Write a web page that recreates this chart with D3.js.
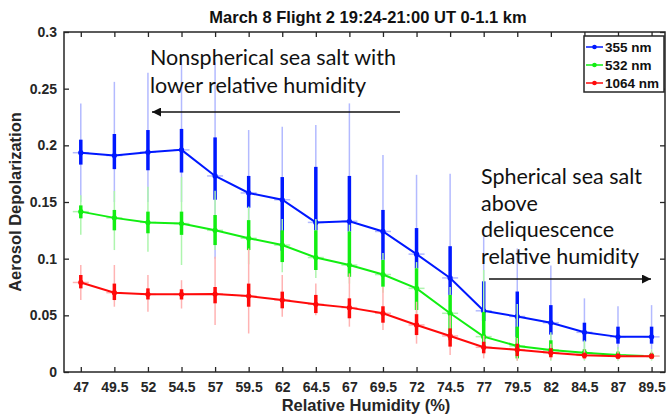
<!DOCTYPE html>
<html>
<head>
  <meta charset="utf-8">
  <script src="https://d3js.org/d3.v7.min.js"></script>
  <style>
    body { margin: 0; background: #fff; }
    svg text { font-family: "Liberation Sans", Arial, sans-serif; }
    .note { font-family: Lato, "Open Sans", sans-serif; font-size: 21.5px; fill: #111; }
  </style>
</head>
<body>
<script>
// relative humidity bins (%)
var rh = [47, 49.5, 52, 54.5, 57, 59.5, 62, 64.5, 67, 69.5, 72, 74.5, 77, 79.5, 82, 84.5, 87, 89.5];

// 355 nm
var blueMean   = [0.1935, 0.191, 0.194, 0.196, 0.173, 0.158, 0.152, 0.132, 0.133, 0.124, 0.104, 0.083, 0.054, 0.049, 0.0435, 0.035, 0.031, 0.031];
var blueBoxLo  = [0.183, 0.179, 0.178, 0.176, 0.152, 0.145, 0.107, 0.125, 0.124, 0.099, 0.0915, 0.068, 0.045, 0.031, 0.033, 0.027, 0.025, 0.025];
var blueBoxHi  = [0.205, 0.21, 0.2135, 0.2145, 0.207, 0.173, 0.172, 0.181, 0.173, 0.143, 0.127, 0.111, 0.080, 0.071, 0.059, 0.0435, 0.040, 0.040];
var blueMinLo  = [0.15, 0.15, 0.15, 0.15, 0.10, 0.12, 0.10, 0.10, 0.09, 0.08, 0.07, 0.05, 0.03, 0.025, 0.022, 0.018, 0.02, 0.02];
var blueMaxHi  = [0.237, 0.256, 0.264, 0.2715, 0.273, 0.2135, 0.2165, 0.218, 0.237, 0.1915, 0.174, 0.175, 0.122, 0.109, 0.094, 0.065, 0.058, 0.059];

// 532 nm
var greenMean  = [0.1415, 0.136, 0.132, 0.131, 0.125, 0.118, 0.112, 0.101, 0.0944, 0.086, 0.0738, 0.0518, 0.0312, 0.023, 0.0194, 0.017, 0.015, 0.014];
var greenBoxLo = [0.1356, 0.125, 0.1224, 0.121, 0.112, 0.1076, 0.097, 0.09, 0.084, 0.0753, 0.0547, 0.028, 0.02, 0.012, 0.016, 0.013, 0.012, 0.012];
var greenBoxHi = [0.147, 0.143, 0.1415, 0.1415, 0.1385, 0.134, 0.125, 0.125, 0.124, 0.0988, 0.0915, 0.068, 0.053, 0.04, 0.028, 0.02, 0.018, 0.017];
var greenMinLo = [0.121, 0.1076, 0.106, 0.0944, 0.1076, 0.095, 0.088, 0.083, 0.078, 0.07, 0.05, 0.025, 0.015, 0.01, 0.01, 0.01, 0.01, 0.01];
var greenMaxHi = [0.156, 0.1597, 0.1635, 0.172, 0.16, 0.146, 0.135, 0.135, 0.13, 0.105, 0.097, 0.075, 0.09, 0.06, 0.035, 0.028, 0.022, 0.02];

// 1064 nm
var redMean    = [0.079, 0.07, 0.0685, 0.0685, 0.0688, 0.067, 0.0635, 0.0597, 0.0568, 0.0518, 0.0415, 0.0318, 0.0218, 0.0197, 0.017, 0.0147, 0.014, 0.014];
var redBoxLo   = [0.0738, 0.0635, 0.064, 0.064, 0.0606, 0.0576, 0.0562, 0.052, 0.0474, 0.0435, 0.0326, 0.0224, 0.0165, 0.014, 0.013, 0.012, 0.012, 0.012];
var redBoxHi   = [0.0856, 0.078, 0.0738, 0.073, 0.075, 0.078, 0.0709, 0.068, 0.065, 0.058, 0.051, 0.0385, 0.0267, 0.025, 0.021, 0.017, 0.016, 0.016];
var redMinLo   = [0.0635, 0.0576, 0.0532, 0.056, 0.0415, 0.034, 0.0488, 0.05, 0.04, 0.037, 0.025, 0.015, 0.012, 0.01, 0.011, 0.011, 0.011, 0.011];
var redMaxHi   = [0.0944, 0.0944, 0.0856, 0.081, 0.1017, 0.109, 0.0856, 0.078, 0.087, 0.075, 0.062, 0.05, 0.032, 0.03, 0.025, 0.02, 0.018, 0.018];

var yTicks = [0, 0.05, 0.1, 0.15, 0.2, 0.25, 0.3];
var seriesNames = ["355 nm", "532 nm", "1064 nm"];

var series = [
  {name: seriesNames[0], color: "#0018ff", light: "#b3baff", mean: blueMean, boxLo: blueBoxLo, boxHi: blueBoxHi, lo: blueMinLo, hi: blueMaxHi},
  {name: seriesNames[1], color: "#12ee12", light: "#aef5ae", mean: greenMean, boxLo: greenBoxLo, boxHi: greenBoxHi, lo: greenMinLo, hi: greenMaxHi},
  {name: seriesNames[2], color: "#ff0a0a", light: "#ffb3b3", mean: redMean, boxLo: redBoxLo, boxHi: redBoxHi, lo: redMinLo, hi: redMaxHi}
];

var W = 669, H = 416;
// plot box (note: "top" is reserved on window, so prefixed names)
var pLeft = 64, pRight = 665, pTop = 32, pBottom = 372;

var svg = d3.select("body").append("svg")
  .attr("width", W).attr("height", H);

var x = d3.scaleLinear().domain([45.75, 90.5]).range([pLeft, pRight]);
var y = d3.scaleLinear().domain([0, 0.3]).range([pBottom, pTop]);

var axisColor = "#262626";

// axes with inward ticks, MATLAB box style
svg.append("g").attr("transform", "translate(0," + pBottom + ")")
  .call(d3.axisBottom(x).tickValues(rh).tickSize(-5).tickPadding(10).tickFormat(d3.format("")))
  .call(g => g.select(".domain").remove());
svg.append("g").attr("transform", "translate(0," + pTop + ")")
  .call(d3.axisTop(x).tickValues(rh).tickSize(-5).tickFormat(""))
  .call(g => g.select(".domain").remove());
svg.append("g").attr("transform", "translate(" + pLeft + ",0)")
  .call(d3.axisLeft(y).tickValues(yTicks).tickSize(-5).tickPadding(7).tickFormat(d => d === 0 ? "0" : d3.format("")(d)))
  .call(g => g.select(".domain").remove());
svg.append("g").attr("transform", "translate(" + pRight + ",0)")
  .call(d3.axisRight(y).tickValues(yTicks).tickSize(-5).tickFormat(""))
  .call(g => g.select(".domain").remove());

svg.selectAll(".tick line").attr("stroke", axisColor).attr("stroke-width", 1.3);
svg.selectAll(".tick text")
  .attr("fill", axisColor).style("font-size", "14px").style("font-weight", "bold")
  .style("font-family", "'Liberation Sans', Arial, sans-serif");

svg.append("rect")
  .attr("x", pLeft).attr("y", pTop).attr("width", pRight - pLeft).attr("height", pBottom - pTop)
  .attr("fill", "none").attr("stroke", axisColor).attr("stroke-width", 1.5);

// data
var plot = svg.append("g");
var line = d3.line().x((d, i) => x(rh[i])).y(d => y(d));

series.forEach(function(s) {
  var g = plot.append("g");
  g.selectAll(".thin").data(rh).join("line")
    .attr("x1", d => x(d)).attr("x2", d => x(d))
    .attr("y1", (d, i) => y(s.lo[i])).attr("y2", (d, i) => y(s.hi[i]))
    .attr("stroke", s.light).attr("stroke-width", 1.5);
  g.selectAll(".cap").data(rh).join("line")
    .attr("x1", d => x(d) - 8).attr("x2", d => x(d) + 8)
    .attr("y1", (d, i) => y(s.mean[i])).attr("y2", (d, i) => y(s.mean[i]))
    .attr("stroke", s.light).attr("stroke-width", 1.5);
  g.selectAll(".thick").data(rh).join("line")
    .attr("x1", d => x(d)).attr("x2", d => x(d))
    .attr("y1", (d, i) => y(s.boxLo[i])).attr("y2", (d, i) => y(s.boxHi[i]))
    .attr("stroke", s.color).attr("stroke-width", 3.5);
  g.append("path").datum(s.mean)
    .attr("d", line).attr("fill", "none")
    .attr("stroke", s.color).attr("stroke-width", 2);
  g.selectAll("circle").data(s.mean).join("circle")
    .attr("cx", (d, i) => x(rh[i])).attr("cy", d => y(d)).attr("r", 2.6)
    .attr("fill", s.color);
});

// annotations
svg.append("text").attr("class", "note").attr("x", 150).attr("y", 65).text("Nonspherical sea salt with");
svg.append("text").attr("class", "note").attr("x", 150).attr("y", 93).text("lower relative humidity");

var notes2 = ["Spherical sea salt", "above", "deliquescence", "relative humidity"];
notes2.forEach(function(t, i) {
  svg.append("text").attr("class", "note").attr("x", 481).attr("y", 184 + i * 26.5).text(t);
});

svg.append("defs").append("marker")
  .attr("id", "ah").attr("viewBox", "0 0 10 10").attr("refX", 10).attr("refY", 5)
  .attr("markerWidth", 11).attr("markerHeight", 9).attr("markerUnits", "userSpaceOnUse")
  .attr("orient", "auto")
  .append("path").attr("d", "M0,0 L10,5 L0,10 Z").attr("fill", "#111");

svg.append("line").attr("x1", 400).attr("y1", 112).attr("x2", 152).attr("y2", 112)
  .attr("stroke", "#111").attr("stroke-width", 1.3).attr("marker-end", "url(#ah)");
svg.append("line").attr("x1", 489).attr("y1", 279).attr("x2", 651).attr("y2", 279)
  .attr("stroke", "#111").attr("stroke-width", 1.3).attr("marker-end", "url(#ah)");

// title and axis labels
svg.append("text").attr("x", 368).attr("y", 23).attr("text-anchor", "middle")
  .style("font-size", "16.5px").style("font-weight", "bold").attr("fill", "#111")
  .text("March 8 Flight 2 19:24-21:00 UT 0-1.1 km");
svg.append("text").attr("x", 366).attr("y", 411).attr("text-anchor", "middle")
  .style("font-size", "16.5px").style("font-weight", "bold").attr("fill", axisColor)
  .text("Relative Humidity (%)");
svg.append("text").attr("transform", "translate(21," + ((pTop + pBottom) / 2) + ") rotate(-90)")
  .attr("text-anchor", "middle")
  .style("font-size", "16.5px").style("font-weight", "bold").attr("fill", axisColor)
  .text("Aerosol Depolarization");

// legend
var leg = svg.append("g").attr("transform", "translate(584,36)");
leg.append("rect").attr("width", 80).attr("height", 56)
  .attr("fill", "#fff").attr("stroke", axisColor).attr("stroke-width", 1.5);
series.forEach(function(s, i) {
  var ly = 11 + i * 18;
  leg.append("line").attr("x1", 2).attr("x2", 19).attr("y1", ly).attr("y2", ly)
    .attr("stroke", s.color).attr("stroke-width", 1.5);
  leg.append("circle").attr("cx", 10.5).attr("cy", ly).attr("r", 2.3).attr("fill", s.color);
  leg.append("text").attr("x", 21).attr("y", ly + 5)
    .style("font-size", "13.5px").style("font-weight", "bold").attr("fill", "#111")
    .text(s.name);
});
</script>
</body>
</html>
